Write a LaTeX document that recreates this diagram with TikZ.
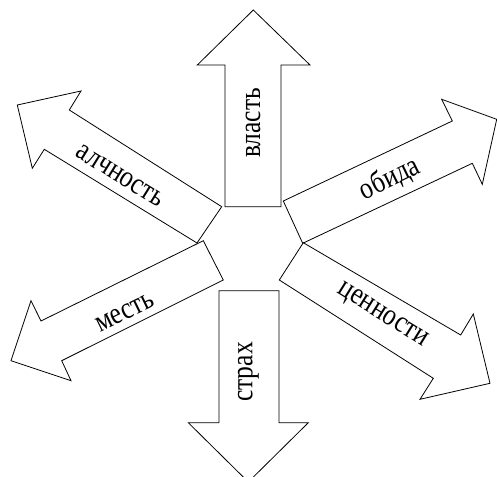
\documentclass[tikz,border=0pt]{standalone}
\usepackage{fontspec}
\setmainfont{Liberation Serif}
\tikzset{
  arrowshape/.style={draw=black, fill=white, line width=0.8pt, line join=miter},
  lbl/.style={font=\fontsize{25.5}{28}\selectfont, inner sep=0pt}
}
\begin{document}
\begin{tikzpicture}[x=1pt,y=-1pt]
\useasboundingbox (0,0) rectangle (497,476);
\begin{scope}
\clip (0,0) rectangle (497,476);
% up
\draw[arrowshape] (225,206.7) -- (225,65) -- (197.3,65) -- (253.3,10) -- (310,65) -- (281,65) -- (281,206.7) -- cycle;
% down
\draw[arrowshape] (219,290.7) -- (219,422.7) -- (188.3,422.7) -- (248.3,482) -- (308.3,422.7) -- (279,422.7) -- (279,290.7) -- cycle;
% up-left
\draw[arrowshape] (221.7,206.7) -- (69.3,110) -- (81,91) -- (17.3,105) -- (32.3,168.3) -- (44.3,149.3) -- (197,243) -- cycle;
% up-right
\draw[arrowshape] (283.3,201) -- (452.3,121) -- (441.7,99.3) -- (496.7,119.3) -- (482.3,184.3) -- (472.3,163.3) -- (302.7,243.3) -- cycle;
% down-left
\draw[arrowshape] (203.3,240.7) -- (41,321) -- (31,300.7) -- (11,360.7) -- (71,380.7) -- (61.7,360.7) -- (223.3,280) -- cycle;
% down-right
\draw[arrowshape] (303.3,242.7) -- (460.7,335) -- (473.3,314) -- (490,383.3) -- (420,399.3) -- (433.3,378.3) -- (279.3,280) -- cycle;
\end{scope}
\node[lbl, rotate=90, yscale=1.2] (vlast) at (253,123) {власть};
\node[lbl, rotate=-32, yscale=1.2] (alch) at (120,176) {алчность};
\node[lbl, rotate=26, yscale=1.2] (obida) at (390,179) {обида};
\node[lbl, rotate=26, yscale=1.2] (mest) at (125,313) {месть};
\node[lbl, rotate=-32, yscale=1.2] (tsen) at (382,316) {ценности};
\node[lbl, rotate=90, yscale=1.2] (strah) at (248.5,372) {страх};
\end{tikzpicture}
\end{document}
